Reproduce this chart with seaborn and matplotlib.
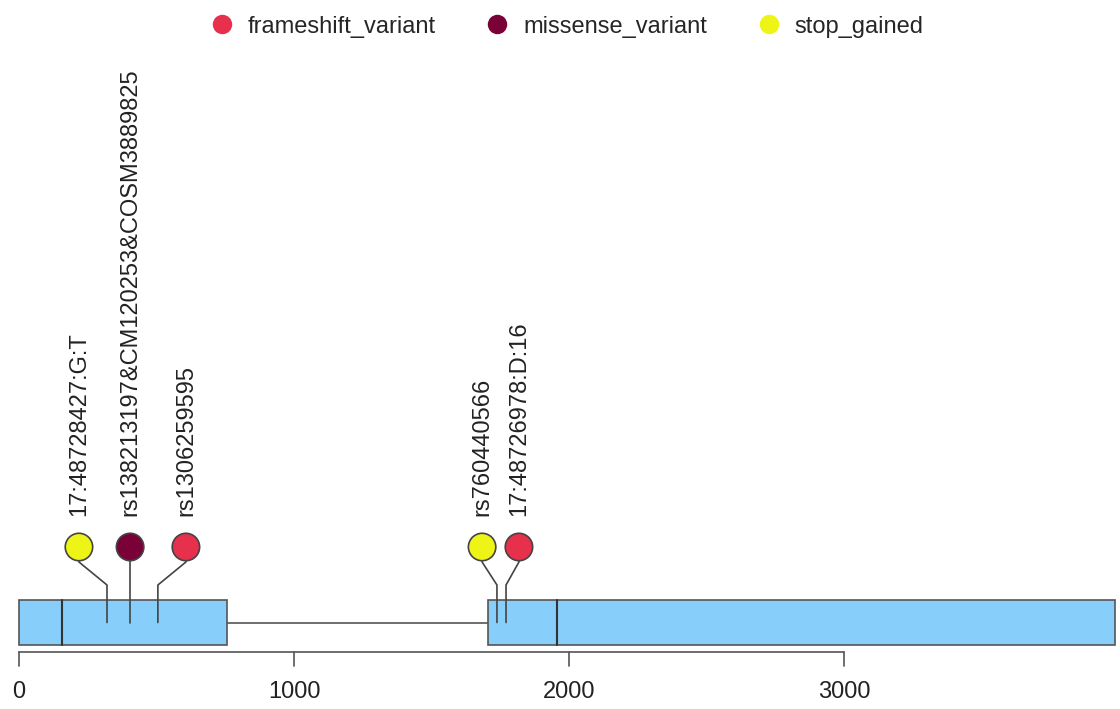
import numpy as np
import pandas as pd
import matplotlib
matplotlib.use("Agg")
import matplotlib.pyplot as plt
import seaborn as sns

# gene model (transcript coordinates)
exon_start = [0, 1705]
exon_end = [756, 3985]
cds_marks = [156, 1956]

# variants
var_pos = [320, 404, 505, 1738, 1771]
head_pos = [218, 404, 607, 1684, 1818]   # where the lollipop heads sit after spreading
var_type = ["stop_gained", "missense_variant", "frameshift_variant",
            "stop_gained", "frameshift_variant"]
var_label = ["17:48728427:G:T", "rs138213197&CM120253&COSM3889825",
             "rs1306259595", "rs760440566", "17:48726978:D:16"]

type_order = ["frameshift_variant", "missense_variant", "stop_gained"]
type_colors = ["#E6304C", "#7A0038", "#EEF516"]
ticks = [0, 1000, 2000, 3000]

df = pd.DataFrame({"pos": var_pos, "head": head_pos, "type": var_type, "label": var_label})

sns.set_style("white")
plt.rcParams["font.family"] = ["Liberation Sans", "DejaVu Sans"]

fig = plt.figure(figsize=(11.2, 7.09), dpi=100)
ax = fig.add_axes([0, 0, 1, 1])
# map data x to the pixel layout of the reference
ax.set_xlim(-19 / 0.275, (1120 - 19) / 0.275)
ax.set_ylim(709, 0)
ax.axis("off")

box_top, box_bot, mid = 600, 645, 622.5
edge = "#555555"

# intron line
ax.plot([exon_end[0], exon_start[1]], [mid, mid], color=edge, lw=1.2, zorder=1)
# exons
for s, e in zip(exon_start, exon_end):
    ax.add_patch(plt.Rectangle((s, box_top), e - s, box_bot - box_top,
                               facecolor="#87CEFA", edgecolor=edge, lw=1.2, zorder=2))
for c in cds_marks:
    ax.plot([c, c], [box_top, box_bot], color="#333333", lw=1.5, zorder=3)

# stems
for _, r in df.iterrows():
    ax.plot([r["pos"], r["pos"], r["head"], r["head"]],
            [mid, 585, 562, 547], color="#444444", lw=1.2, zorder=4)
    ax.text(r["head"], 516, r["label"], rotation=90, ha="center", va="bottom",
            fontsize=17, color="#222222")

df["y"] = 547
sns.scatterplot(data=df, x="head", y="y", hue="type", hue_order=type_order,
                palette=type_colors, s=390, edgecolor="#444444", linewidth=1.2,
                ax=ax, zorder=5)

# legend
h, l = ax.get_legend_handles_labels()
for hh in h:
    hh.set_markersize(14)
    hh.set_markeredgewidth(0)
ax.legend(h, l, loc="upper center", bbox_to_anchor=(0.505, 1.008), ncol=3, frameon=False,
          fontsize=17, handletextpad=0.5, columnspacing=2.0, handlelength=1.2)

# x axis drawn like R's axis()
ax.plot([ticks[0], ticks[-1]], [652, 652], color=edge, lw=1.2)
for t in ticks:
    ax.plot([t, t], [652, 666], color=edge, lw=1.2)
    ax.text(t, 692, str(t), ha="center", va="center", fontsize=17, color="#222222")

fig.savefig("out.png", dpi=100)
